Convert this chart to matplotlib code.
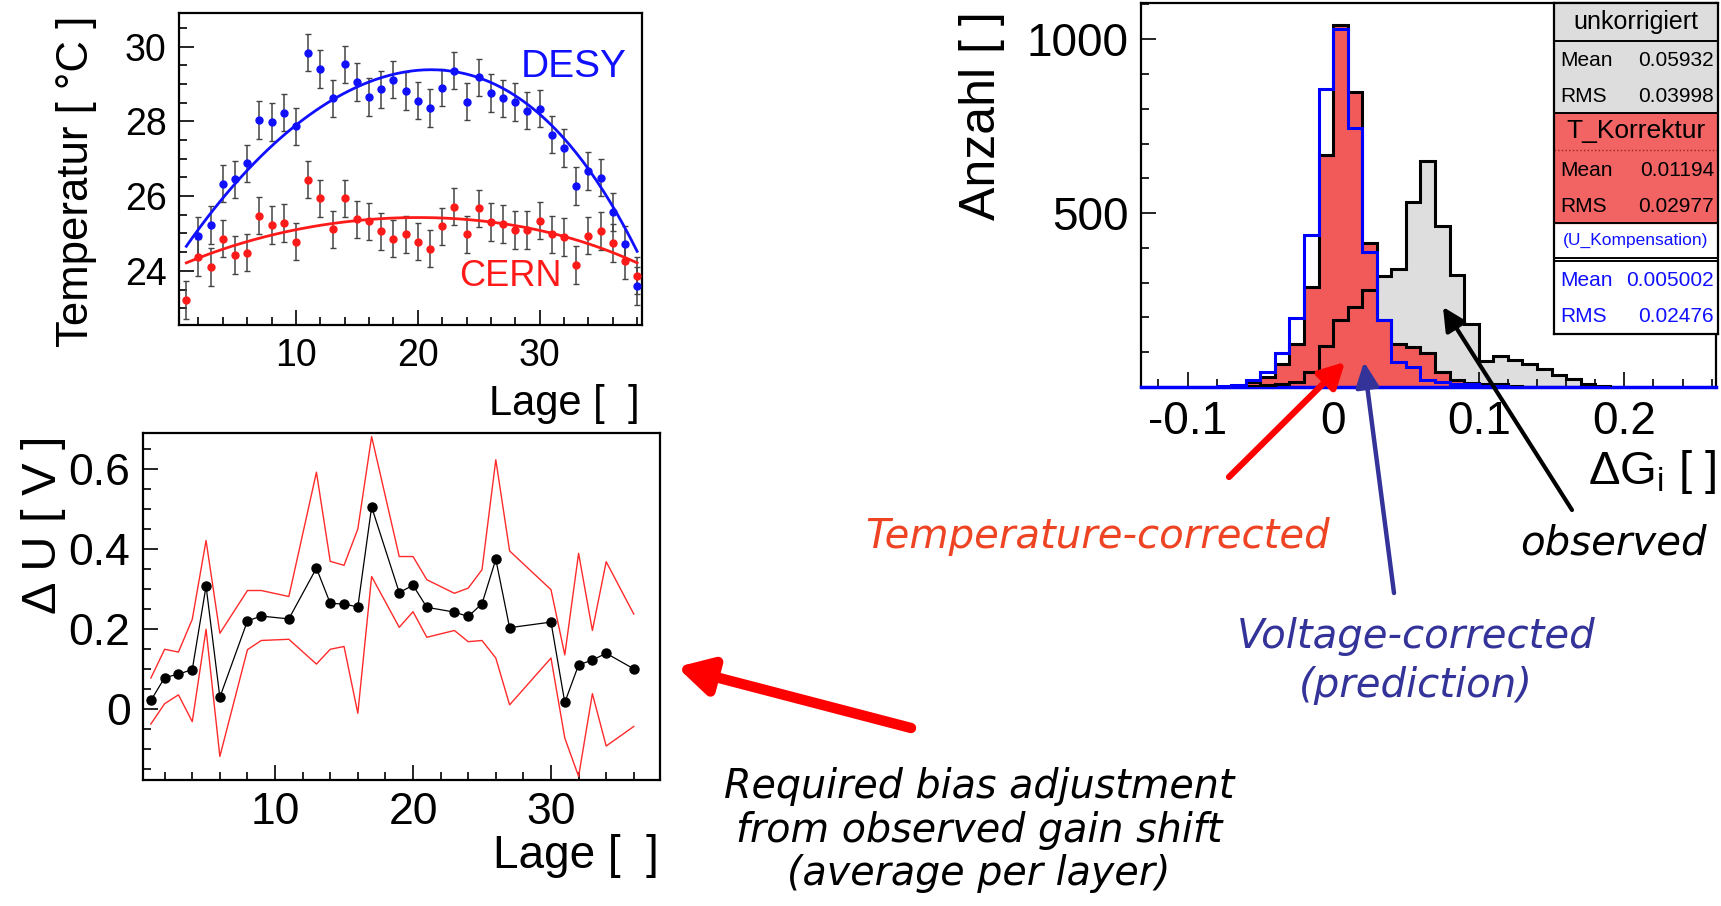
import numpy as np
import matplotlib
matplotlib.use("Agg")
import matplotlib.pyplot as plt
from matplotlib.ticker import MultipleLocator, FixedLocator
from matplotlib.patches import Rectangle, FancyArrowPatch

plt.rcParams['font.family'] = ['Liberation Sans', 'DejaVu Sans']
plt.rcParams['mathtext.fontset'] = 'custom'
plt.rcParams['mathtext.rm'] = 'Liberation Sans'
plt.rcParams['mathtext.it'] = 'Liberation Sans:italic'

# --- temperature per layer ---
lage = np.arange(1, 39)
t_desy = [np.nan, 24.93, 25.23, 26.33, 26.45, 26.88, 28.04, 27.98, 28.23, 27.87,
          29.84, 29.40, 28.62, 29.53, 29.05, 28.65, 28.86, 29.12, 28.81, 28.55,
          28.36, 28.90, 29.36, 28.53, 29.18, 28.76, 28.62, 28.52, 28.29, 28.34,
          27.64, 27.29, 26.27, 26.67, 26.49, 25.57, 24.71, 23.59]
t_cern = [23.22, 24.36, 24.10, 24.86, 24.42, 24.49, 25.48, 25.23, 25.28, 24.78,
          26.44, 25.94, 25.11, 25.94, 25.38, 25.32, 25.06, 24.86, 24.98, 24.78,
          24.59, 25.19, 25.72, 24.98, 25.67, 25.31, 25.25, 25.09, 25.09, 25.34,
          24.98, 24.91, 24.16, 24.94, 25.07, 24.74, 24.27, 23.87]
t_err = 0.5
# fitted temperature profiles, sampled along the layer axis
fit_lage = [1, 5, 10, 15, 20, 25, 30, 35, 38]
fit_desy = [24.66, 26.33, 27.87, 28.96, 29.38, 29.10, 28.24, 26.24, 24.52]
fit_cern = [24.21, 24.70, 25.07, 25.38, 25.40, 25.36, 25.07, 24.62, 24.21]

# --- bias adjustment per layer ---
lage_u = [1, 2, 3, 4, 5, 6, 8, 9, 11, 13, 14, 15, 16, 17, 19, 20, 21, 23, 24,
          25, 26, 27, 30, 31, 32, 33, 34, 36]
du_mean = [0.021, 0.078, 0.087, 0.098, 0.307, 0.029, 0.220, 0.232, 0.225, 0.352,
           0.264, 0.262, 0.255, 0.505, 0.291, 0.309, 0.254, 0.242, 0.231, 0.263,
           0.374, 0.203, 0.217, 0.016, 0.110, 0.122, 0.139, 0.100]
du_upper = [0.077, 0.149, 0.142, 0.224, 0.421, 0.189, 0.296, 0.296, 0.281, 0.592,
            0.369, 0.359, 0.450, 0.681, 0.381, 0.381, 0.323, 0.289, 0.302, 0.348,
            0.623, 0.395, 0.298, 0.135, 0.389, 0.196, 0.368, 0.237]
du_lower = [-0.038, 0.013, 0.035, -0.032, 0.199, -0.119, 0.148, 0.171, 0.174, 0.112,
            0.149, 0.156, -0.011, 0.331, 0.204, 0.243, 0.179, 0.196, 0.168, 0.171,
            0.127, 0.010, 0.127, -0.073, -0.169, 0.038, -0.093, -0.044]

# --- gain shift histograms ---
bin_edges = np.linspace(-0.08, 0.19, 28)
h_unkorr = [0, 1, 3, 6, 10, 15, 42, 117, 194, 230, 279, 320, 338, 533, 649, 464,
            322, 180, 75, 88, 79, 67, 52, 35, 22, 9, 2]
h_tkorr = [1, 4, 15, 30, 65, 125, 288, 667, 1042, 849, 413, 193, 125, 116, 98, 44,
           20, 12, 10, 8, 3, 0, 0, 0, 0, 0, 0]
h_ukomp = [2, 5, 20, 44, 97, 197, 437, 858, 1028, 745, 389, 193, 71, 58, 20, 15,
           8, 8, 3, 2, 0, 0, 0, 0, 0, 0, 0]
stats_unkorr = ("0.05932", "0.03998")
stats_tkorr = ("0.01194", "0.02977")
stats_ukomp = ("0.005002", "0.02476")

W, H = 1721, 906
fig = plt.figure(figsize=(W / 100, H / 100), dpi=100)


def fx(px):
    return px / W


def fy(py):
    return 1 - py / H


def root_axes(ax, lsize):
    ax.tick_params(which='both', direction='in', top=False, right=False,
                   labelsize=lsize, width=1.2)
    ax.tick_params(which='major', length=11, pad=9)
    ax.tick_params(which='minor', length=5.5)
    for s in ax.spines.values():
        s.set_linewidth(1.6)


# temperature panel
ax1 = fig.add_axes([fx(179), fy(325), fx(463), 312 / H])
for vals, fit, col in [(t_desy, fit_desy, '#1010ff'), (t_cern, fit_cern, '#ff1a1a')]:
    ax1.errorbar(lage, vals, yerr=t_err, fmt='o', color=col, ms=5,
                 ecolor='#444444', elinewidth=1.1, capsize=2, capthick=1.0,
                 zorder=3)
    coef = np.polyfit(fit_lage, fit, 4)
    xf = np.linspace(1, 38, 200)
    ax1.plot(xf, np.polyval(coef, xf), color=col, lw=2.0, zorder=4)
ax1.set_xlim(0.4, 38.4)
ax1.set_ylim(22.55, 30.9)
ax1.xaxis.set_major_locator(FixedLocator([10, 20, 30]))
ax1.xaxis.set_minor_locator(MultipleLocator(2))
ax1.yaxis.set_major_locator(FixedLocator([24, 26, 28, 30]))
ax1.yaxis.set_minor_locator(MultipleLocator(0.5))
root_axes(ax1, 27)
ax1.text(32.8, 29.46, 'DESY', color='#1010ff', fontsize=28, ha='center', va='center')
ax1.text(27.6, 23.85, 'CERN', color='#ff1a1a', fontsize=26, ha='center', va='center')
fig.text(fx(77), fy(16), 'Temperatur [ °C ]', rotation=90, ha='center', va='top', fontsize=31.5)
fig.text(fx(640), fy(404), 'Lage [  ]', ha='right', va='center', fontsize=30)

# bias adjustment panel
ax2 = fig.add_axes([fx(143), fy(780), fx(517), 347 / H])
ax2.plot(lage_u, du_upper, color='#ff2a2a', lw=1.0)
ax2.plot(lage_u, du_lower, color='#ff2a2a', lw=1.0)
ax2.plot(lage_u, du_mean, color='black', lw=0.9, marker='o', ms=6.5)
ax2.set_xlim(0.43, 37.9)
ax2.set_ylim(-0.178, 0.69)
ax2.xaxis.set_major_locator(FixedLocator([10, 20, 30]))
ax2.xaxis.set_minor_locator(MultipleLocator(2))
ax2.yaxis.set_major_locator(FixedLocator([0, 0.2, 0.4, 0.6]))
ax2.yaxis.set_major_formatter(plt.FuncFormatter(lambda v, p: '0' if abs(v) < 1e-9 else f'{v:.1f}'))
ax2.yaxis.set_minor_locator(MultipleLocator(0.05))
root_axes(ax2, 32)
fig.text(fx(44), fy(436), 'Δ U [ V ]', rotation=90, ha='center', va='top', fontsize=35)
fig.text(fx(659), fy(856), 'Lage [  ]', ha='right', va='center', fontsize=33)

# gain shift histogram panel
ax3 = fig.add_axes([fx(1141), fy(387), fx(575), 384 / H])
ax3.stairs(h_unkorr, bin_edges, fill=True, color='#dedede', zorder=1)
ax3.stairs(h_tkorr, bin_edges, fill=True, color='#f25a5a', zorder=2)
ax3.stairs(h_unkorr, bin_edges, color='black', lw=2.2, zorder=3)
ax3.stairs(h_tkorr, bin_edges, color='black', lw=2.2, zorder=4)
ax3.stairs(h_ukomp, bin_edges, color='#0000ff', lw=2.2, zorder=5)
ax3.set_xlim(-0.132, 0.263)
ax3.set_ylim(0, 1104)
ax3.xaxis.set_major_locator(FixedLocator([-0.1, 0, 0.1, 0.2]))
ax3.xaxis.set_major_formatter(plt.FuncFormatter(lambda v, p: '0' if abs(v) < 1e-9 else f'{v:.1f}'))
ax3.xaxis.set_minor_locator(MultipleLocator(0.02))
ax3.yaxis.set_major_locator(FixedLocator([500, 1000]))
ax3.yaxis.set_minor_locator(MultipleLocator(100))
root_axes(ax3, 33)
ax3.spines['bottom'].set_color('#0000ff')
ax3.spines['bottom'].set_linewidth(2.5)
fig.text(fx(982), fy(11), 'Anzahl [ ]', rotation=90, ha='center', va='top', fontsize=36)
fig.text(fx(1716), fy(472), r'ΔG$_{\mathregular{i}}$ [ ]', ha='right', va='center', fontsize=34)

# statistics box
sb = fig.add_axes([fx(1554), fy(334), fx(164), 331 / H])
sb.set_xlim(0, 164)
sb.set_ylim(331, 0)
sb.set_xticks([])
sb.set_yticks([])
for s in sb.spines.values():
    s.set_linewidth(1.6)
sb.add_patch(Rectangle((0, 0), 164, 110, color='#dddddd', zorder=0))
sb.add_patch(Rectangle((0, 110), 164, 110, color='#f26464', zorder=0))
for yl in [38, 110, 220, 255, 258]:
    sb.axhline(yl, color='black', lw=1.4)
sb.axhline(147, color='#9a2020', lw=1.0, ls=':')
sb.text(82, 19, 'unkorrigiert', ha='center', va='center', fontsize=18)
sb.text(82, 128, 'T_Korrektur', ha='center', va='center', fontsize=19)
sb.text(82, 237, '(U_Kompensation)', ha='center', va='center', fontsize=12.5, color='#1010ff')
rows = [(57, 94, stats_unkorr, 'black'), (168, 204, stats_tkorr, 'black'),
        (277, 313, stats_ukomp, '#1010ff')]
for y_mean, y_rms, (m, r), col in rows:
    sb.text(6, y_mean, 'Mean', va='center', fontsize=15, color=col)
    sb.text(160, y_mean, m, ha='right', va='center', fontsize=15, color=col)
    sb.text(6, y_rms, 'RMS', va='center', fontsize=15, color=col)
    sb.text(160, y_rms, r, ha='right', va='center', fontsize=15, color=col)


# annotation arrows
def arrow(tail, tip, col, lw, hl, hw):
    fig.add_artist(FancyArrowPatch(
        (fx(tail[0]), fy(tail[1])), (fx(tip[0]), fy(tip[1])),
        transform=fig.transFigure, arrowstyle=f'-|>,head_length={hl},head_width={hw}',
        color=col, lw=lw, mutation_scale=1, shrinkA=0, shrinkB=0))


arrow((1229, 477), (1345, 362), '#ff0000', 4.5, 15, 8)
arrow((1394, 593), (1364, 362), '#333399', 3.2, 15, 7)
arrow((1572, 510), (1443, 307), 'black', 3.0, 14, 7)
arrow((911, 728), (677, 667), '#ff0000', 7.5, 20, 11)

note_font = dict(family='DejaVu Sans', style='italic')
fig.text(fx(1098), fy(536), 'Temperature-corrected', ha='center', va='center',
         fontsize=29, color='#ee4424', **note_font)
fig.text(fx(1416), fy(661), 'Voltage-corrected\n(prediction)', ha='center', va='center',
         fontsize=29, color='#333399', linespacing=1.3, **note_font)
fig.text(fx(1613), fy(543), 'observed', ha='center', va='center',
         fontsize=29, color='black', **note_font)
fig.text(fx(979), fy(830), 'Required bias adjustment\nfrom observed gain shift\n(average per layer)',
         ha='center', va='center', fontsize=28.5, color='black', linespacing=1.15, **note_font)

fig.savefig('out.png', dpi=100)
